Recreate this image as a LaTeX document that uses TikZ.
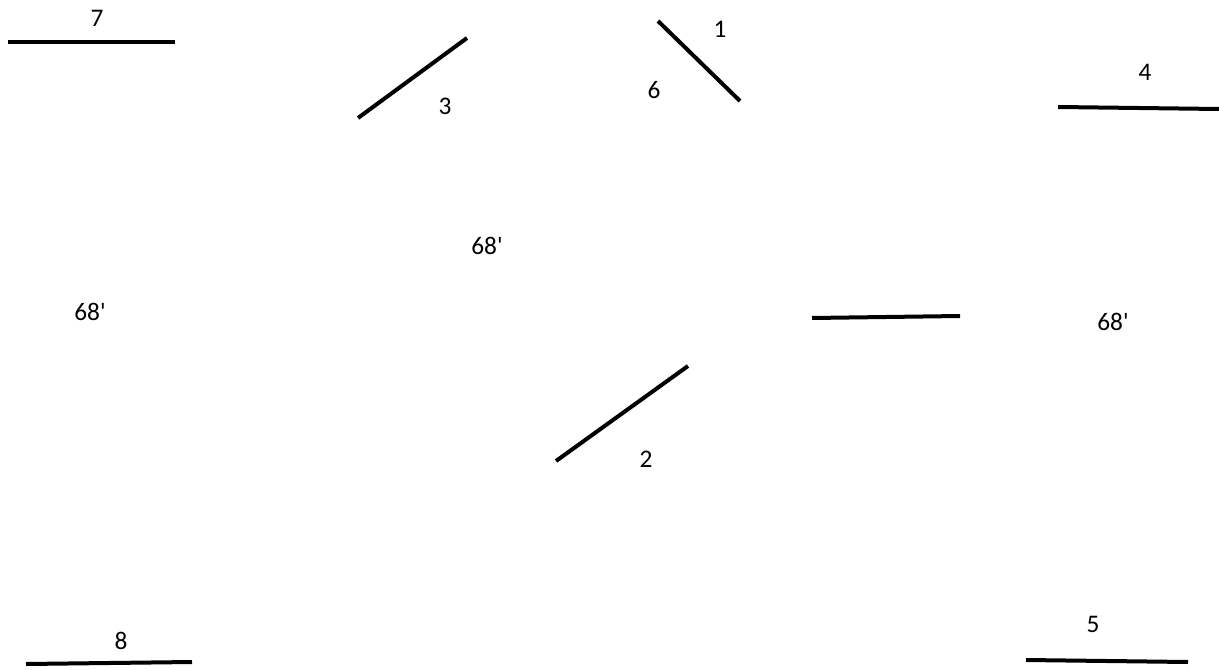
\documentclass[tikz,border=0pt]{standalone}
\usepackage{fontspec}
\setmainfont{Carlito}
\begin{document}
\begin{tikzpicture}[x=0.75pt,y=-0.75pt,
  seg/.style={line width=3pt},
  lbl/.style={font=\fontsize{19pt}{22pt}\selectfont, inner sep=0pt}]
\useasboundingbox (0,0) rectangle (1219,670);
% segments
\coordinate (a7) at (8,42);   \coordinate (b7) at (175,42);
\coordinate (a3) at (358,118); \coordinate (b3) at (467,38);
\coordinate (a1) at (658,21); \coordinate (b1) at (740,101);
\coordinate (a4) at (1058,107); \coordinate (b4) at (1219,109);
\coordinate (am) at (812,318); \coordinate (bm) at (960,316);
\coordinate (a2) at (556,461); \coordinate (b2) at (688,366);
\coordinate (a8) at (26,664); \coordinate (b8) at (192,662);
\coordinate (a5) at (1026,660); \coordinate (b5) at (1188,662);
\draw[seg] (a7) -- (b7);
\draw[seg] (a3) -- (b3);
\draw[seg] (a1) -- (b1);
\draw[seg] (a4) -- (b4);
\draw[seg] (am) -- (bm);
\draw[seg] (a2) -- (b2);
\draw[seg] (a8) -- (b8);
\draw[seg] (a5) -- (b5);
% labels
\node[lbl] (l7) at (97,18) {7};
\node[lbl] (l3) at (445,106) {3};
\node[lbl] (l1) at (720,29) {1};
\node[lbl] (l6) at (654,90) {6};
\node[lbl] (l4) at (1145,72) {4};
\node[lbl] (lc) at (487,246) {68\textquotesingle};
\node[lbl] (ll) at (90,312) {68\textquotesingle};
\node[lbl] (lr) at (1113,322) {68\textquotesingle};
\node[lbl] (l2) at (646,459) {2};
\node[lbl] (l8) at (121,641) {8};
\node[lbl] (l5) at (1093,624) {5};
\end{tikzpicture}
\end{document}
